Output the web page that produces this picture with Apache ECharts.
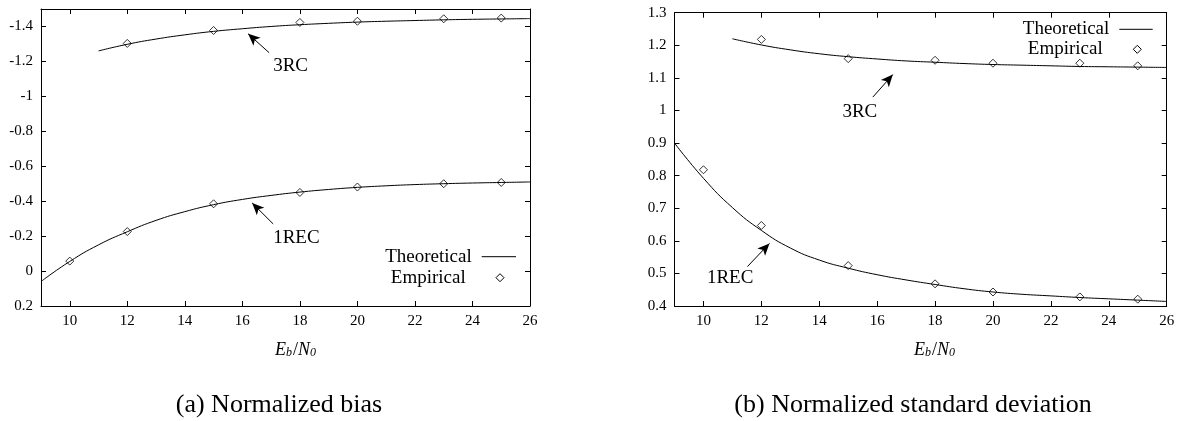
<!DOCTYPE html>
<html>
<head>
<meta charset="utf-8">
<script src="https://cdn.jsdelivr.net/npm/echarts@6.0.0/dist/echarts.min.js"></script>
<style>
  html, body { margin: 0; padding: 0; background: #fff; }
  #chart { width: 1180px; height: 421px; }
</style>
</head>
<body>
<div id="chart"></div>
<script>
const FONT = '"Liberation Serif", "DejaVu Serif", serif';

// ticks
const xTicks = [10, 12, 14, 16, 18, 20, 22, 24, 26];
const biasTicks = [-1.4, -1.2, -1, -0.8, -0.6, -0.4, -0.2, 0, 0.2];
const sdTicks = [0.4, 0.5, 0.6, 0.7, 0.8, 0.9, 1, 1.1, 1.2, 1.3];

// Eb/N0 values
const empX3 = [12, 15, 18, 20, 23, 25];
const empX1 = [10, 12, 15, 18, 20, 23, 25];
const thX3 = [11, 12, 13, 14, 15, 16, 17, 18, 19, 20, 21, 22, 23, 24, 25, 26];
const thX1 = [9, 10, 11, 12, 13, 14, 15, 16, 17, 18, 19, 20, 21, 22, 23, 24, 25, 26];

// (a) normalized bias
const biasTh3RC = [-1.26, -1.298, -1.328, -1.352, -1.372, -1.387, -1.400, -1.410, -1.418, -1.425, -1.430, -1.434, -1.438, -1.441, -1.443, -1.445];
const biasEmp3RC = [-1.303, -1.377, -1.423, -1.430, -1.444, -1.448];
const biasTh1REC = [0.06, -0.055, -0.15, -0.225, -0.29, -0.34, -0.38, -0.41, -0.433, -0.452, -0.467, -0.479, -0.488, -0.495, -0.5, -0.504, -0.507, -0.51];
const biasEmp1REC = [-0.057, -0.226, -0.385, -0.450, -0.481, -0.500, -0.507];

// (b) normalized standard deviation
const sdTh3RC = [1.22, 1.201, 1.186, 1.174, 1.165, 1.158, 1.152, 1.148, 1.144, 1.141, 1.139, 1.137, 1.135, 1.134, 1.133, 1.132];
const sdEmp3RC = [1.218, 1.159, 1.154, 1.145, 1.145, 1.137];
const sdTh1REC = [0.9, 0.792, 0.702, 0.632, 0.578, 0.541, 0.516, 0.496, 0.48, 0.466, 0.453, 0.443, 0.436, 0.431, 0.426, 0.422, 0.418, 0.414];
const sdEmp1REC = [0.818, 0.647, 0.524, 0.468, 0.443, 0.428, 0.421];

const pairs = (xs, ys) => xs.map((x, i) => [x, ys[i]]);

let chart = echarts.init(document.getElementById('chart'));

let axisLine = { onZero: false, lineStyle: { color: '#000', width: 1 } };
let tickLabel = { color: '#000', fontFamily: FONT, fontSize: 15, margin: 8 };

let xAxisFor = (grid, pos) => ({
    type: 'value', gridIndex: grid, position: pos, min: 9, max: 26,
    axisLine: axisLine,
    axisTick: { inside: true, length: 5, customValues: xTicks, lineStyle: { color: '#000' } },
    axisLabel: pos === 'bottom' ? { ...tickLabel, customValues: xTicks } : { show: false },
    splitLine: { show: false }
});

let yAxisFor = (grid, pos, min, max, ticks, inverse) => ({
    type: 'value', gridIndex: grid, position: pos, min: min, max: max, inverse: inverse,
    axisLine: axisLine,
    axisTick: { inside: true, length: 5, customValues: ticks, lineStyle: { color: '#000' } },
    axisLabel: pos === 'left' ? { ...tickLabel, customValues: ticks } : { show: false },
    splitLine: { show: false }
});

let theo = (axis, data, arrow) => ({
    type: 'line', name: 'Theoretical', xAxisIndex: axis, yAxisIndex: axis,
    data: data, showSymbol: false, smooth: true,
    lineStyle: { color: '#000', width: 1 },
    markLine: {
        silent: true, symbol: ['none', 'arrow'], symbolSize: [8, 12],
        label: { show: false },
        lineStyle: { color: '#000', width: 1, type: 'solid' },
        data: [[{ coord: arrow[0] }, { coord: arrow[1] }]]
    }
});

let emp = (axis, data) => ({
    type: 'scatter', name: 'Empirical', xAxisIndex: axis, yAxisIndex: axis,
    data: data, symbol: 'diamond', symbolSize: 8,
    itemStyle: { color: '#fff', borderColor: '#000', borderWidth: 1 }
});

let option = {
    animation: false,
    backgroundColor: '#fff',
    grid: [
        { left: 41, right: 650, top: 9, bottom: 115 },
        { left: 674.5, right: 13.3, top: 12.7, bottom: 115 }
    ],
    xAxis: [xAxisFor(0, 'bottom'), xAxisFor(0, 'top'), xAxisFor(1, 'bottom'), xAxisFor(1, 'top')],
    yAxis: [
        yAxisFor(0, 'left', -1.5, 0.2, biasTicks, true),
        yAxisFor(0, 'right', -1.5, 0.2, biasTicks, true),
        yAxisFor(1, 'left', 0.4, 1.3, sdTicks, false),
        yAxisFor(1, 'right', 0.4, 1.3, sdTicks, false)
    ],
    series: [
        theo(0, pairs(thX3, biasTh3RC), [[16.93, -1.25], [16.2, -1.358]]),
        theo(0, pairs(thX1, biasTh1REC), [[17.07, -0.27], [16.34, -0.39]]),
        theo(2, pairs(thX3, sdTh3RC), [[15.85, 1.041], [16.54, 1.11]]),
        theo(2, pairs(thX1, sdTh1REC), [[11.52, 0.521], [12.28, 0.592]]),
        emp(0, pairs(empX3, biasEmp3RC)),
        emp(0, pairs(empX1, biasEmp1REC)),
        emp(2, pairs(empX3, sdEmp3RC)),
        emp(2, pairs(empX1, sdEmp1REC))
    ]
};
chart.setOption(option);

// curve labels, placed in data coordinates
let notes = [
    { axis: 0, at: [17.07, -1.175], text: '3RC' },
    { axis: 0, at: [17.07, -0.19], text: '1REC' },
    { axis: 2, at: [14.8, 0.996], text: '3RC' },
    { axis: 2, at: [10.12, 0.486], text: '1REC' }
];

let txt = (x, y, text, size, align) => ({
    type: 'text', x: x, y: y, silent: true,
    style: { text: text, fill: '#000', fontFamily: FONT, fontSize: size, align: align || 'left', verticalAlign: 'middle' }
});

let diamond = (cx, cy) => ({
    type: 'polygon', silent: true,
    shape: { points: [[cx, cy - 4], [cx + 4, cy], [cx, cy + 4], [cx - 4, cy]] },
    style: { fill: '#fff', stroke: '#000', lineWidth: 1 }
});

let legend = (tx, ty, lx1, lx2, ex, ey, dx) => [
    txt(tx, ty, 'Theoretical', 19, 'right'),
    { type: 'line', silent: true, shape: { x1: lx1, y1: ty, x2: lx2, y2: ty }, style: { stroke: '#000', lineWidth: 1 } },
    txt(ex, ey, 'Empirical', 19, 'right'),
    diamond(dx, ey)
];

let axisName = (cx, cy) => ({
    type: 'text', x: cx, y: cy, silent: true,
    style: {
        text: '{i|E}{s|b}{n|/}{i|N}{s|0}',
        align: 'center', verticalAlign: 'middle',
        rich: {
            i: { fontFamily: FONT, fontStyle: 'italic', fontSize: 18, fill: '#000', verticalAlign: 'bottom', lineHeight: 20 },
            n: { fontFamily: FONT, fontSize: 18, fill: '#000', verticalAlign: 'bottom', lineHeight: 20 },
            s: { fontFamily: FONT, fontStyle: 'italic', fontSize: 12, fill: '#000', verticalAlign: 'bottom', lineHeight: 14, padding: [0, 1, 0, 0] }
        }
    }
});

let graphics = notes.map(n => {
    let p = chart.convertToPixel({ xAxisIndex: n.axis, yAxisIndex: n.axis }, n.at);
    return txt(p[0], p[1], n.text, 19);
});
graphics = graphics.concat(
    legend(471.7, 256.7, 481.7, 516, 465.7, 277.7, 500),
    legend(1109.3, 29.3, 1119.3, 1152.7, 1102.7, 49.3, 1137.3),
    [axisName(296, 349), axisName(935, 349),
     txt(279, 405, '(a) Normalized bias', 26, 'center'),
     txt(913, 405, '(b) Normalized standard deviation', 26, 'center')]
);
chart.setOption({ graphic: graphics });
</script>
</body>
</html>
